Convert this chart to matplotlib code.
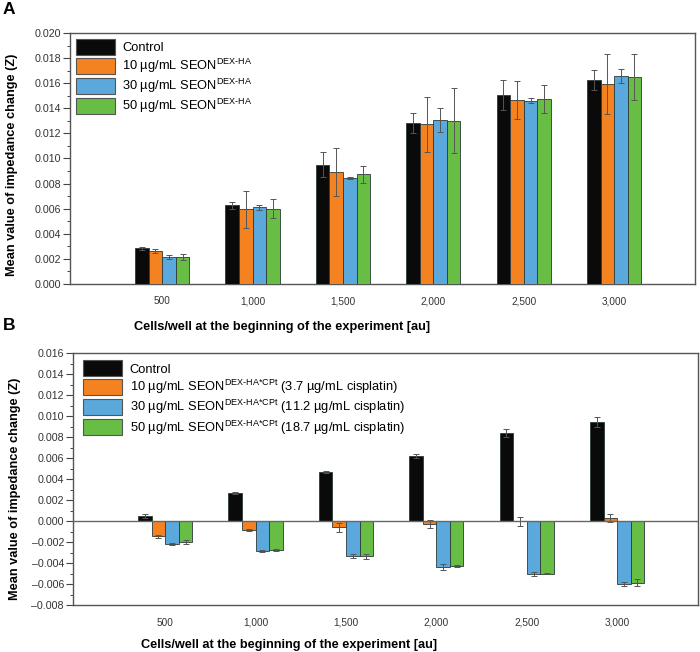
import matplotlib
matplotlib.use("Agg")
import matplotlib.pyplot as plt
import numpy as np
from matplotlib import font_manager
from matplotlib.ticker import MultipleLocator, FuncFormatter
from matplotlib.patches import Patch

names = {f.name for f in font_manager.fontManager.ttflist}
narrow = 'Liberation Sans Narrow' if 'Liberation Sans Narrow' in names else 'Liberation Sans'
plt.rcParams['font.family'] = ['Liberation Sans', 'DejaVu Sans']
plt.rcParams['mathtext.fontset'] = 'custom'
plt.rcParams['mathtext.rm'] = 'Liberation Sans'

categories = ['500', '1,000', '1,500', '2,000', '2,500', '3,000']

# Panel A
a_labels = ['Control',
            '10 \u00b5g/mL SEON$^{\\text{DEX-HA}}$',
            '30 \u00b5g/mL SEON$^{\\text{DEX-HA}}$',
            '50 \u00b5g/mL SEON$^{\\text{DEX-HA}}$']
a_control = [0.00284, 0.00627, 0.00950, 0.01285, 0.01508, 0.01628]
a_10 = [0.00263, 0.00595, 0.00895, 0.01272, 0.01466, 0.01596]
a_30 = [0.00213, 0.00610, 0.00845, 0.01304, 0.01460, 0.01655]
a_50 = [0.00213, 0.00600, 0.00874, 0.01300, 0.01472, 0.01650]
a_control_err = [0.00010, 0.00026, 0.00100, 0.00080, 0.00120, 0.00080]
a_10_err = [0.00015, 0.00150, 0.00190, 0.00220, 0.00150, 0.00240]
a_30_err = [0.00017, 0.00020, 0.00005, 0.00096, 0.00020, 0.00055]
a_50_err = [0.00025, 0.00075, 0.00070, 0.00260, 0.00110, 0.00180]

# Panel B
b_labels = ['Control',
            '10 \u00b5g/mL SEON$^{\\text{DEX-HA*CPt}}$ (3.7 \u00b5g/mL cisplatin)',
            '30 \u00b5g/mL SEON$^{\\text{DEX-HA*CPt}}$ (11.2 \u00b5g/mL cisplatin)',
            '50 \u00b5g/mL SEON$^{\\text{DEX-HA*CPt}}$ (18.7 \u00b5g/mL cisplatin)']
b_control = [0.00048, 0.00264, 0.00467, 0.00622, 0.00842, 0.00947]
b_10 = [-0.00143, -0.00089, -0.00060, -0.00025, -0.00003, 0.00030]
b_30 = [-0.00222, -0.00286, -0.00330, -0.00440, -0.00505, -0.00600]
b_50 = [-0.00203, -0.00273, -0.00337, -0.00426, -0.00502, -0.00588]
b_control_err = [0.00016, 0.00010, 0.00008, 0.00020, 0.00040, 0.00050]
b_10_err = [0.00015, 0.00010, 0.00040, 0.00040, 0.00040, 0.00040]
b_30_err = [0.00010, 0.00008, 0.00020, 0.00030, 0.00020, 0.00015]
b_50_err = [0.00020, 0.00008, 0.00020, 0.00010, 0.00005, 0.00035]

colors = ['#0a0a0a', '#f58220', '#5aa8dc', '#68bd45']
edge = '#2b3a3a'

fig = plt.figure(figsize=(7.0, 6.52), dpi=100)
axA = fig.add_axes([70/700, 1-284/652, 625/700, 251/652])
axB = fig.add_axes([73/700, 1-605/652, 625/700, 251.7/652])

x = np.arange(len(categories))
w = 0.15
offs = [-1.5*w, -0.5*w, 0.5*w, 1.5*w]

def fmt(v, pos):
    s = f'{v:.3f}'
    if abs(v) < 1e-9:
        s = '0.000'
    return s.replace('-', '\u2013')

def style(ax, ylo, yhi, xlabel_xy, ylabel_y):
    ax.set_xlim(-1.02, 5.895)
    ax.set_ylim(ylo, yhi)
    ax.yaxis.set_major_locator(MultipleLocator(0.002))
    ax.yaxis.set_minor_locator(MultipleLocator(0.001))
    ax.yaxis.set_major_formatter(FuncFormatter(fmt))
    ax.tick_params(axis='y', which='major', length=5, width=0.8, color='#444444',
                   labelsize=7.7, labelcolor='#333333', pad=1.5, direction='out')
    ax.tick_params(axis='y', which='minor', length=2.5, width=0.7, color='#444444', direction='out')
    ax.set_xticks(x)
    ax.set_xticklabels(categories, fontsize=7.2, color='#333333', family=[narrow, 'Liberation Sans'])
    ax.tick_params(axis='x', length=0, pad=9)
    for sp in ax.spines.values():
        sp.set_color('#555555')
        sp.set_linewidth(1.0)
    ax.set_ylabel('Mean value of impedance change (Z)', fontsize=9.2, fontweight='bold')
    ax.yaxis.set_label_coords(-0.083, ylabel_y)
    ax.set_xlabel('Cells/well at the beginning of the experiment [au]', fontsize=9.2,
                  fontweight='bold', family=[narrow, 'Liberation Sans'])
    ax.xaxis.set_label_coords(*xlabel_xy)
    ax.xaxis.label.set_verticalalignment('center')

def draw(ax, series, errs):
    for i, (vals, er) in enumerate(zip(series, errs)):
        ax.bar(x + offs[i], vals, width=w, color=colors[i], edgecolor=edge, linewidth=0.6, zorder=3)
        ax.errorbar(x + offs[i], vals, yerr=er, fmt='none', ecolor='#555555',
                    elinewidth=0.7, capsize=2.2, capthick=0.7, zorder=4)

draw(axA, [a_control, a_10, a_30, a_50], [a_control_err, a_10_err, a_30_err, a_50_err])
style(axA, 0, 0.020, (0.339, -0.17), 0.474)

draw(axB, [b_control, b_10, b_30, b_50], [b_control_err, b_10_err, b_30_err, b_50_err])
axB.axhline(0, color='#666666', linewidth=1.0, zorder=5)
style(axB, -0.008, 0.016, (0.345, -0.158), 0.46)

def legend(ax, labels, anchor):
    handles = [Patch(facecolor=c, edgecolor='#555555', linewidth=0.8) for c in colors]
    ax.legend(handles, labels, loc='upper left', bbox_to_anchor=anchor, frameon=False,
              fontsize=9.3, handlelength=3.05, handleheight=1.55, labelspacing=0.14,
              handletextpad=0.55, borderpad=0.0, borderaxespad=0.0)

legend(axA, a_labels, (6/625, 1-6/251))
legend(axB, b_labels, (10/625, 1-7/251.7))

fig.text(3/700, 1-10/652, 'A', fontsize=12.5, fontweight='bold', va='center', ha='left')
fig.text(3/700, 1-325/652, 'B', fontsize=12.5, fontweight='bold', va='center', ha='left')

fig.savefig('out.png', dpi=100)
